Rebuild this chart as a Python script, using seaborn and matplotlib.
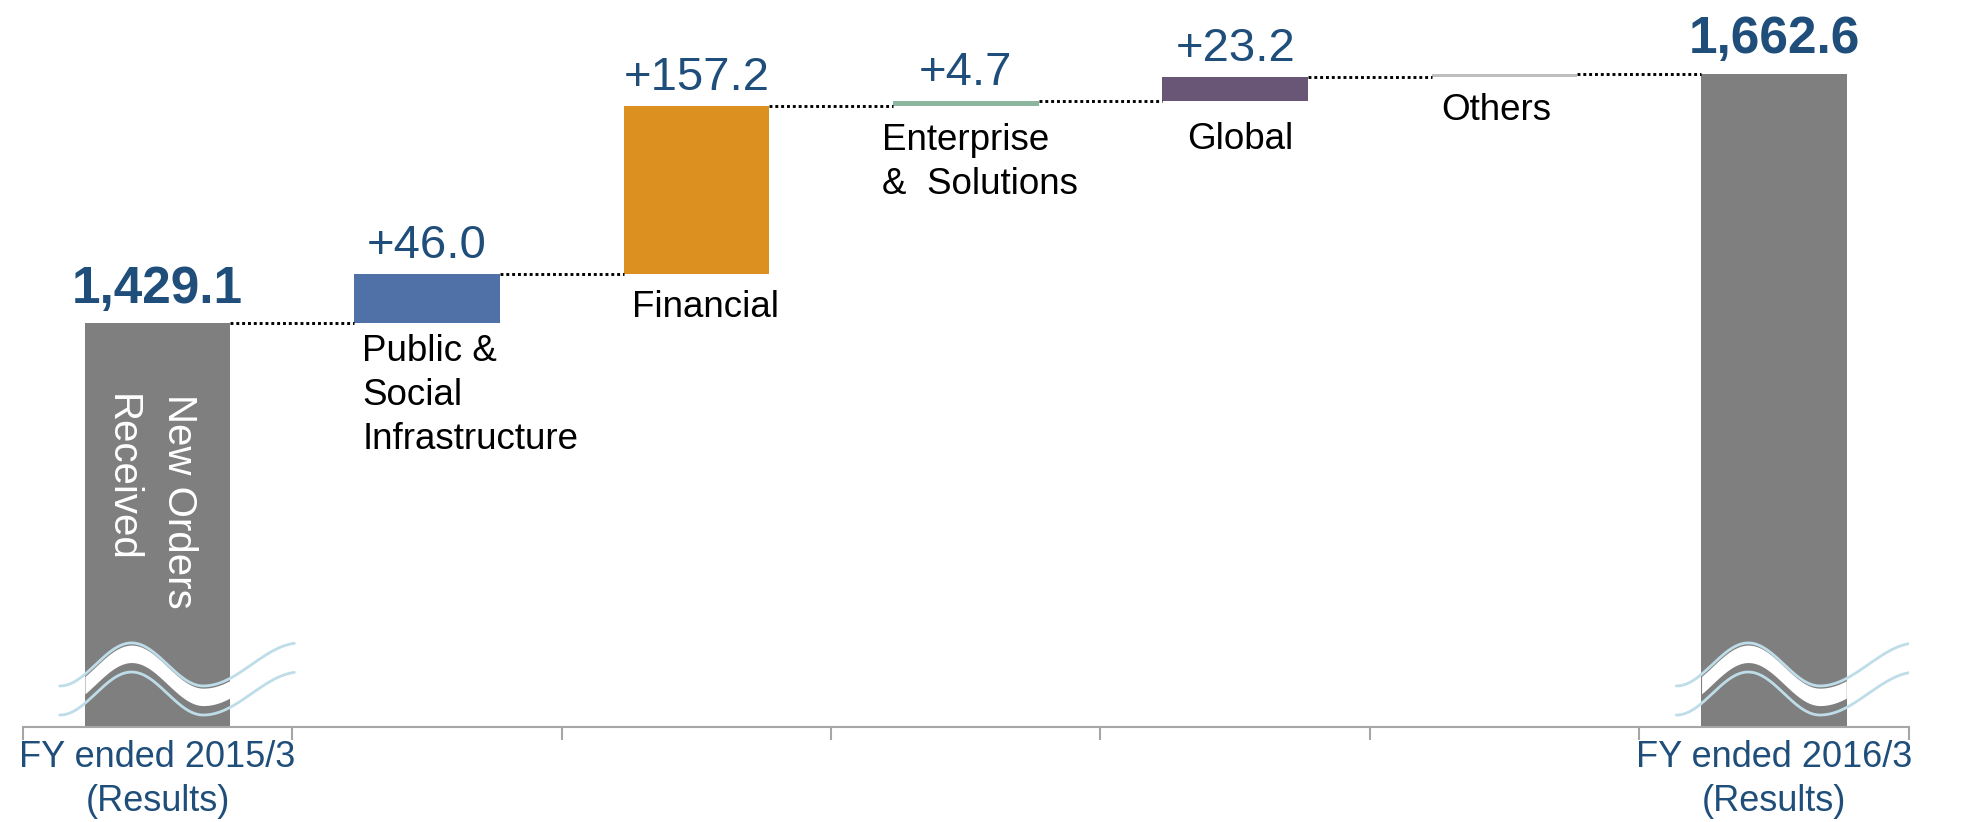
import numpy as np
import pandas as pd
import matplotlib
matplotlib.use("Agg")
import matplotlib.pyplot as plt
import seaborn as sns

# ---------------- data ----------------
categories = ["FY2015/3", "Public & Social Infrastructure", "Financial",
              "Enterprise & Solutions", "Global", "Others", "FY2016/3"]
start_total = 1429.1
changes = [46.0, 157.2, 4.7, 23.2, 2.4]
end_total = 1662.6
value_labels = ["1,429.1", "+46.0", "+157.2", "+4.7", "+23.2", "", "1,662.6"]
segment_labels = ["", "Public &\nSocial\nInfrastructure", "Financial",
                  "Enterprise\n&  Solutions", "Global", "Others", ""]
tick_labels = ["FY ended 2015/3\n(Results)", "FY ended 2016/3\n(Results)"]
bar_note = "New Orders\nReceived"

# ---------------- style ----------------
colors = ["#7F7F7F", "#4F71A8", "#DC9020", "#8BB59F", "#695576", "#BFBFBF", "#7F7F7F"]
label_blue = "#1F4E7A"
axis_gray = "#A6A6A6"
break_blue = "#BEDDE9"

sns.set_theme(style="white")
plt.rcParams["font.family"] = ["Liberation Sans", "DejaVu Sans"]

# waterfall geometry from the data
bottoms = [0.0]
heights = [start_total]
level = start_total
for c in changes:
    bottoms.append(level)
    heights.append(c)
    level += c
bottoms.append(0.0)
heights.append(end_total)
tops = [b + h for b, h in zip(bottoms, heights)]

df = pd.DataFrame({"cat": categories, "height": heights})

bar_w = 0.54
y_low, y_high = 1051.3, 1732.0

fig = plt.figure(figsize=(19.76, 8.22), dpi=100)
ax = fig.add_axes([0.0115, 0.116, 0.9545, 0.884])

sns.barplot(data=df, x="cat", y="height", order=categories, bottom=bottoms,
            width=bar_w, color=colors[0], saturation=1, errorbar=None,
            linewidth=0, ax=ax)
for p, col in zip(ax.patches, colors):
    p.set_facecolor(col)
    p.set_edgecolor("none")
    p.set_zorder(2)

ax.set_xlim(-0.5, len(categories) - 0.5)
ax.set_ylim(y_low, y_high)
ax.set_xlabel("")
ax.set_ylabel("")
ax.set_yticks([])

# axis and tick marks at category boundaries
for s in ["top", "right", "left"]:
    ax.spines[s].set_visible(False)
ax.spines["bottom"].set_color(axis_gray)
ax.spines["bottom"].set_linewidth(1.5)
ax.set_xticks(range(len(categories)))
ax.set_xticklabels([""] * len(categories))
ax.set_xticks(np.arange(-0.5, len(categories), 1.0), minor=True)
ax.tick_params(axis="x", which="major", length=0, bottom=False)
ax.tick_params(axis="x", which="minor", length=9.4, width=1.5, color=axis_gray,
               direction="out", bottom=True)

# dotted connectors
n = len(categories)
for i in range(n - 1):
    lvl = tops[i]
    ax.plot([i + bar_w / 2, i + 1 - bar_w / 2], [lvl, lvl], color="black",
            linestyle=(0, (1, 1)), linewidth=2.1, zorder=3)

# value labels
for i, txt in enumerate(value_labels):
    if not txt:
        continue
    big = i in (0, n - 1)
    ax.annotate(txt, xy=(i, tops[i]), xytext=(0, 15 if big else 11.5),
                textcoords="offset points", ha="center", va="baseline",
                fontsize=37 if big else 34, fontweight="bold" if big else "normal",
                color=label_blue, zorder=5)

# segment labels under increment bars
seg_align = {1: ("left", 0.03), 2: ("left", 0.03), 3: ("left", -0.04),
             4: ("center", 0.02), 5: ("center", -0.03)}
seg_offset = {1: -8, 2: -11, 3: -12, 4: -15, 5: -12}
for i, txt in enumerate(segment_labels):
    if not txt:
        continue
    ha, dx = seg_align[i]
    x = (i - bar_w / 2 if ha == "left" else i) + dx
    ax.annotate(txt, xy=(x, bottoms[i]), xytext=(0, seg_offset[i]),
                textcoords="offset points", ha=ha, va="top", fontsize=26.5,
                color="black", linespacing=1.33, zorder=5)

# rotated note inside the first bar
ax.text(-0.025, 0.458, bar_note, transform=ax.get_xaxis_transform(), rotation=-90,
        ha="center", va="top", multialignment="left", fontsize=29,
        color="white", linespacing=1.65, zorder=5)

# x labels for the two totals
for xpos, txt in zip((0, n - 1), tick_labels):
    ax.text(xpos, -0.018, txt, transform=ax.get_xaxis_transform(),
            ha="center", va="top", fontsize=26, color=label_blue, linespacing=1.33)

# axis-break symbols on total bars
xt = ax.get_xaxis_transform()
t = np.linspace(-0.363, 0.508, 400)
A, c0 = 0.0296, 0.0856
t_trough = 0.17
upper = np.where(
    t <= t_trough,
    c0 + A * np.cos(np.pi * (t - (-0.096)) / 0.266),
    c0 - A * np.cos(np.pi * (t - t_trough) / 0.36),
)
for i in (0, n - 1):
    inside = np.abs(t) <= bar_w / 2
    ax.fill_between(i + t[inside], upper[inside] - 0.027, upper[inside] - 0.003,
                    color="white", transform=xt, zorder=4, linewidth=0)
    ax.plot(i + t, upper, color=break_blue, linewidth=2.0, transform=xt, zorder=4.5)
    ax.plot(i + t, upper - 0.040, color=break_blue, linewidth=2.0, transform=xt, zorder=4.5)

fig.savefig("out.png", dpi=100)
